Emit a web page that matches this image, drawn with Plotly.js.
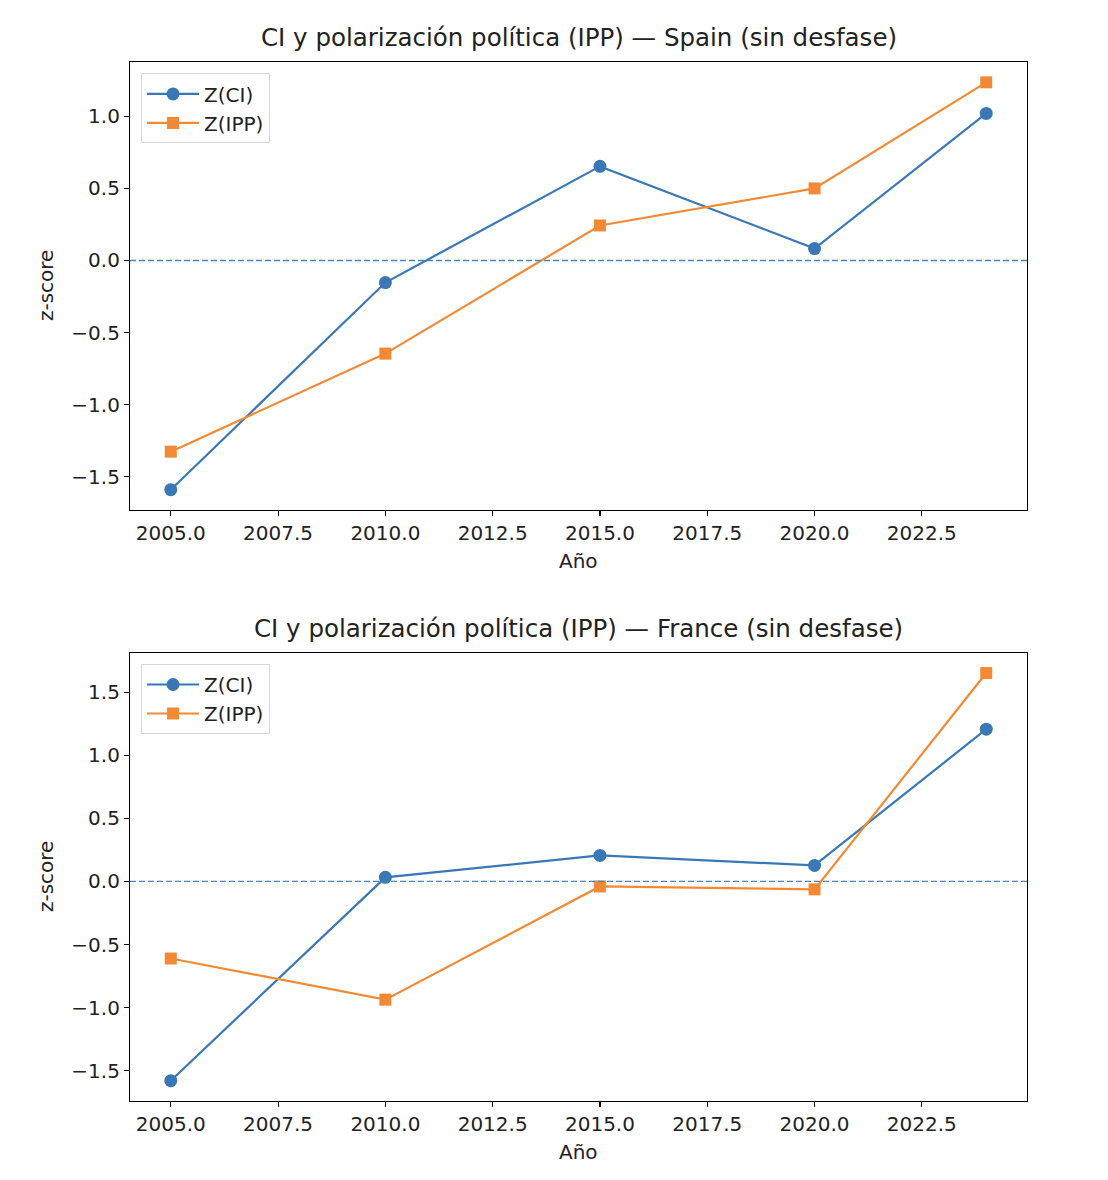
<!DOCTYPE html>
<html>
<head>
<meta charset="utf-8">
<script src="https://cdn.plot.ly/plotly-3.0.1.min.js"></script>
<style>html,body{margin:0;padding:0;background:#fff;}#chart{width:1108px;height:1180px;}</style>
</head>
<body>
<div id="chart"></div>
<script>
var years = [2005, 2010, 2015, 2020, 2024];
var spainCI  = [-1.59, -0.153, 0.653, 0.083, 1.02];
var spainIPP = [-1.326, -0.646, 0.243, 0.50, 1.236];
var franceCI  = [-1.579, 0.032, 0.206, 0.127, 1.206];
var franceIPP = [-0.611, -0.937, -0.04, -0.063, 1.651];
var xTicks = [2005, 2007.5, 2010, 2012.5, 2015, 2017.5, 2020, 2022.5];
var yTicksSpain = [-1.5, -1.0, -0.5, 0.0, 0.5, 1.0];
var yTicksFrance = [-1.5, -1.0, -0.5, 0.0, 0.5, 1.0, 1.5];
var titles = ['CI y polarización política (IPP) — Spain (sin desfase)',
              'CI y polarización política (IPP) — France (sin desfase)'];
var seriesNames = ['Z(CI)', 'Z(IPP)'];

var BLUE = '#3a78b5', ORANGE = '#f28a35', TXT = '#222222';
var FONT = 'DejaVu Sans, sans-serif';

function trace(x, y, name, color, symbol, xa, ya, leg, size) {
  return {x: x, y: y, name: name, type: 'scatter', mode: 'lines+markers',
    xaxis: xa, yaxis: ya, legend: leg,
    line: {color: color, width: 2.2},
    marker: {color: color, symbol: symbol, size: size}};
}
var data = [
  trace(years, spainCI, seriesNames[0], BLUE, 'circle', 'x', 'y', 'legend', 13),
  trace(years, spainIPP, seriesNames[1], ORANGE, 'square', 'x', 'y', 'legend', 12),
  trace(years, franceCI, seriesNames[0], BLUE, 'circle', 'x2', 'y2', 'legend2', 13),
  trace(years, franceIPP, seriesNames[1], ORANGE, 'square', 'x2', 'y2', 'legend2', 12)
];

function xax(anchor) {
  return {anchor: anchor, range: [2004.05, 2024.95], tickvals: xTicks, tickformat: '.1f',
    ticks: 'outside', ticklen: 5, tickwidth: 1.1, tickcolor: '#000',
    showline: true, linecolor: '#000', linewidth: 1.1, mirror: true,
    showgrid: false, zeroline: false, tickfont: {size: 20, color: TXT}};
}
function yax(anchor, domain, range, ticks) {
  return {anchor: anchor, domain: domain, range: range, tickvals: ticks, tickformat: '.1f',
    ticks: 'outside', ticklen: 5, tickwidth: 1.1, tickcolor: '#000',
    showline: true, linecolor: '#000', linewidth: 1.1, mirror: true,
    showgrid: false, zeroline: false, tickfont: {size: 20, color: TXT}};
}
function leg(y) {
  return {x: 0.0123, y: y, xref: 'paper', yref: 'paper', xanchor: 'left', yanchor: 'top',
    bgcolor: 'rgba(255,255,255,0.8)', bordercolor: '#d6d6d6', borderwidth: 1,
    font: {size: 20, color: TXT, family: FONT}, itemwidth: 52, tracegroupgap: 0};
}

var layout = {
  width: 1108, height: 1180,
  margin: {l: 130, r: 81, t: 62, b: 79},
  paper_bgcolor: '#fff', plot_bgcolor: '#fff',
  font: {family: FONT, color: TXT},
  showlegend: true,
  xaxis: xax('y'),
  yaxis: yax('x', [0.5688, 1], [-1.731, 1.377], yTicksSpain),
  xaxis2: xax('y2'),
  yaxis2: yax('x2', [0, 0.4312], [-1.74, 1.81], yTicksFrance),
  legend: leg(0.989),
  legend2: leg(0.4206),
  shapes: [
    {type: 'line', xref: 'x domain', yref: 'y', x0: 0, x1: 1, y0: 0, y1: 0,
     line: {color: '#4a84c2', width: 1.4, dash: '6px,3px'}},
    {type: 'line', xref: 'x2 domain', yref: 'y2', x0: 0, x1: 1, y0: 0, y1: 0,
     line: {color: '#4a84c2', width: 1.4, dash: '6px,3px'}}
  ],
  annotations: [
    {text: titles[0], xref: 'paper', yref: 'paper', x: 0.5, y: 1.0231, xanchor: 'center', yanchor: 'middle', showarrow: false, font: {size: 24.5, color: TXT}},
    {text: titles[1], xref: 'paper', yref: 'paper', x: 0.5, y: 0.4543, xanchor: 'center', yanchor: 'middle', showarrow: false, font: {size: 24.5, color: TXT}},
    {text: 'Año', xref: 'paper', yref: 'paper', x: 0.5, y: 0.5197, xanchor: 'center', yanchor: 'middle', showarrow: false, font: {size: 20, color: TXT}},
    {text: 'Año', xref: 'paper', yref: 'paper', x: 0.5, y: -0.049, xanchor: 'center', yanchor: 'middle', showarrow: false, font: {size: 20, color: TXT}},
    {text: 'z-score', xref: 'paper', yref: 'paper', x: -0.0936, y: 0.7844, xanchor: 'center', yanchor: 'middle', textangle: -90, showarrow: false, font: {size: 20, color: TXT}},
    {text: 'z-score', xref: 'paper', yref: 'paper', x: -0.0936, y: 0.2156, xanchor: 'center', yanchor: 'middle', textangle: -90, showarrow: false, font: {size: 20, color: TXT}}
  ]
};
Plotly.newPlot('chart', data, layout, {displayModeBar: false, staticPlot: true});
</script>
</body>
</html>
